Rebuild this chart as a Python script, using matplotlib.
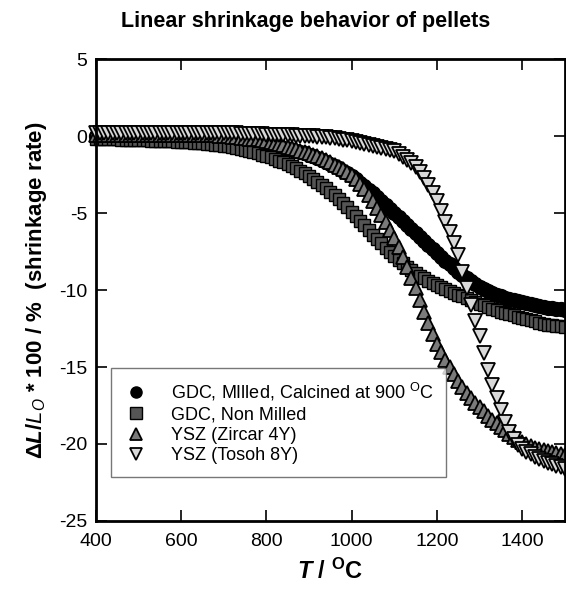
import numpy as np
import matplotlib
matplotlib.use("Agg")
import matplotlib.pyplot as plt

plt.rcParams['font.family'] = ['Liberation Sans', 'DejaVu Sans']
plt.rcParams['mathtext.fontset'] = 'custom'
plt.rcParams['mathtext.rm'] = 'Liberation Sans'
plt.rcParams['mathtext.it'] = 'Liberation Sans:italic'
plt.rcParams['mathtext.bf'] = 'Liberation Sans:bold'
plt.rcParams['mathtext.bfit'] = 'Liberation Sans:bold:italic'
plt.rcParams['axes.unicode_minus'] = False

# temperature grid of the dilatometer runs, degC
temp = np.arange(400, 1501, 10)

# GDC, milled, calcined at 900 C
gdc_milled = [
    0.00, 0.00, 0.00, 0.00, 0.00, -0.02, -0.03, -0.04, -0.05, -0.05,
    -0.06, -0.07, -0.08, -0.08, -0.09, -0.10, -0.10, -0.11, -0.12, -0.13,
    -0.14, -0.15, -0.16, -0.17, -0.18, -0.19, -0.20, -0.21, -0.22, -0.23,
    -0.25, -0.27, -0.29, -0.31, -0.34, -0.37, -0.40, -0.43, -0.46, -0.50,
    -0.54, -0.59, -0.64, -0.69, -0.75, -0.81, -0.88, -0.95, -1.03, -1.11,
    -1.20, -1.31, -1.42, -1.54, -1.67, -1.80, -1.95, -2.10, -2.26, -2.43,
    -2.60, -2.81, -3.02, -3.24, -3.47, -3.70, -3.96, -4.22, -4.48, -4.74,
    -5.00, -5.26, -5.52, -5.78, -6.04, -6.30, -6.56, -6.82, -7.08, -7.34,
    -7.60, -7.85, -8.09, -8.33, -8.57, -8.80, -9.02, -9.23, -9.43, -9.62,
    -9.80, -9.94, -10.07, -10.19, -10.30, -10.40, -10.49, -10.57, -10.65, -10.72,
    -10.80, -10.86, -10.92, -10.98, -11.04, -11.10, -11.14, -11.18, -11.22, -11.26,
    -11.30,
]

# GDC, non milled
gdc_non = [
    -0.20, -0.20, -0.21, -0.21, -0.22, -0.22, -0.23, -0.23, -0.24, -0.25,
    -0.26, -0.27, -0.28, -0.29, -0.30, -0.31, -0.32, -0.33, -0.35, -0.36,
    -0.38, -0.39, -0.41, -0.43, -0.45, -0.47, -0.50, -0.53, -0.56, -0.59,
    -0.62, -0.66, -0.70, -0.75, -0.81, -0.88, -0.95, -1.03, -1.11, -1.20,
    -1.30, -1.39, -1.49, -1.59, -1.69, -1.80, -1.94, -2.09, -2.25, -2.42,
    -2.60, -2.78, -2.97, -3.17, -3.38, -3.60, -3.85, -4.11, -4.37, -4.63,
    -4.90, -5.20, -5.50, -5.80, -6.10, -6.40, -6.69, -6.97, -7.25, -7.53,
    -7.80, -8.04, -8.27, -8.49, -8.70, -8.90, -9.07, -9.24, -9.40, -9.55,
    -9.70, -9.82, -9.94, -10.06, -10.18, -10.30, -10.42, -10.54, -10.66, -10.78,
    -10.90, -11.00, -11.10, -11.20, -11.30, -11.40, -11.48, -11.56, -11.64, -11.72,
    -11.80, -11.88, -11.96, -12.04, -12.12, -12.20, -12.24, -12.28, -12.32, -12.36,
    -12.40,
]

# YSZ (Zircar 4Y)
ysz_zircar = [
    0.10, 0.10, 0.10, 0.10, 0.10, 0.10, 0.10, 0.10, 0.10, 0.10,
    0.10, 0.10, 0.10, 0.10, 0.10, 0.10, 0.10, 0.10, 0.10, 0.10,
    0.10, 0.09, 0.09, 0.08, 0.08, 0.07, 0.06, 0.05, 0.04, 0.02,
    0.00, -0.02, -0.04, -0.07, -0.10, -0.13, -0.16, -0.19, -0.22, -0.26,
    -0.30, -0.37, -0.45, -0.53, -0.61, -0.70, -0.78, -0.86, -0.94, -1.02,
    -1.10, -1.21, -1.32, -1.44, -1.57, -1.70, -1.85, -2.00, -2.15, -2.32,
    -2.50, -2.80, -3.12, -3.46, -3.82, -4.20, -4.64, -5.10, -5.58, -6.08,
    -6.60, -7.22, -7.86, -8.52, -9.20, -9.90, -10.65, -11.40, -12.15, -12.85,
    -13.50, -14.05, -14.55, -15.02, -15.47, -15.90, -16.30, -16.66, -17.00, -17.31,
    -17.60, -17.88, -18.15, -18.41, -18.66, -18.90, -19.12, -19.33, -19.53, -19.72,
    -19.90, -20.02, -20.13, -20.23, -20.32, -20.40, -20.47, -20.54, -20.60, -20.65,
    -20.70,
]

# YSZ (Tosoh 8Y)
ysz_tosoh = [
    0.20, 0.20, 0.20, 0.20, 0.20, 0.20, 0.20, 0.20, 0.20, 0.20,
    0.20, 0.20, 0.20, 0.20, 0.20, 0.20, 0.20, 0.20, 0.20, 0.20,
    0.20, 0.20, 0.20, 0.20, 0.20, 0.20, 0.20, 0.20, 0.20, 0.20,
    0.20, 0.19, 0.18, 0.17, 0.16, 0.15, 0.14, 0.13, 0.12, 0.11,
    0.10, 0.09, 0.08, 0.07, 0.06, 0.05, 0.04, 0.03, 0.02, 0.01,
    0.00, -0.02, -0.04, -0.06, -0.09, -0.12, -0.15, -0.19, -0.23, -0.27,
    -0.32, -0.38, -0.44, -0.51, -0.58, -0.66, -0.72, -0.79, -0.86, -0.93,
    -1.00, -1.15, -1.33, -1.53, -1.75, -2.00, -2.35, -2.75, -3.20, -3.68,
    -4.20, -4.85, -5.55, -6.25, -6.97, -7.70, -8.80, -9.90, -10.95, -12.00,
    -13.00, -14.10, -15.20, -16.15, -17.00, -17.80, -18.55, -19.20, -19.70, -20.05,
    -20.30, -20.50, -20.68, -20.84, -20.98, -21.10, -21.21, -21.31, -21.41, -21.51,
    -21.60,
]

labels = ['GDC, MIlled, Calcined at 900 $^{\\rm O}$C', 'GDC, Non Milled',
          'YSZ (Zircar 4Y)', 'YSZ (Tosoh 8Y)']

fig = plt.figure(figsize=(5.66, 5.91), dpi=100)
ax = fig.add_axes([0.169, 0.1185, 0.829, 0.7815])

ax.plot(temp, gdc_milled, 'o', ms=10, mfc='black', mec='black', label=labels[0], clip_on=False)
ax.plot(temp, gdc_non, 's', ms=9, mfc='#555555', mec='black', mew=1.0, label=labels[1], clip_on=False)
ax.plot(temp, ysz_zircar, '^', ms=10, mfc='#7a7a7a', mec='black', mew=1.3, label=labels[2], clip_on=False)
ax.plot(temp, ysz_tosoh, 'v', ms=10.5, mfc='#d8d8d8', mec='black', mew=1.3, label=labels[3], clip_on=False)

ax.set_xlim(400, 1500)
ax.set_ylim(-25, 5)
ax.set_xticks([400, 600, 800, 1000, 1200, 1400])
ax.set_yticks([5, 0, -5, -10, -15, -20, -25])
ax.tick_params(direction='in', length=8, width=1.2, labelsize=14,
               top=True, right=True)
ax.tick_params(axis='x', pad=9)
ax.tick_params(axis='y', pad=6)
for s in ax.spines.values():
    s.set_linewidth(2)

ax.set_xlabel('$\\boldsymbol{T}$ / $^{\\rm\\mathbf{O}}$C', fontsize=17, fontweight='bold', labelpad=6)
ax.set_ylabel('$\\boldsymbol{\\Delta L/L_O}$ * 100 / %  (shrinkage rate)',
              fontsize=16, fontweight='bold', labelpad=7)
fig.text(0.54, 0.963, 'Linear shrinkage behavior of pellets', ha='center', va='center',
         fontsize=15.5, fontweight='bold')

leg = ax.legend(loc='lower left', bbox_to_anchor=(0.033, 0.095), fontsize=13,
                frameon=True, fancybox=False, edgecolor='#555555', handletextpad=1.2,
                borderpad=0.7, labelspacing=0.2, handlelength=1.4, borderaxespad=0)
leg.get_frame().set_linewidth(1.0)
for h in leg.legend_handles:
    h.set_markersize(8)

fig.savefig('out.png', dpi=100)
